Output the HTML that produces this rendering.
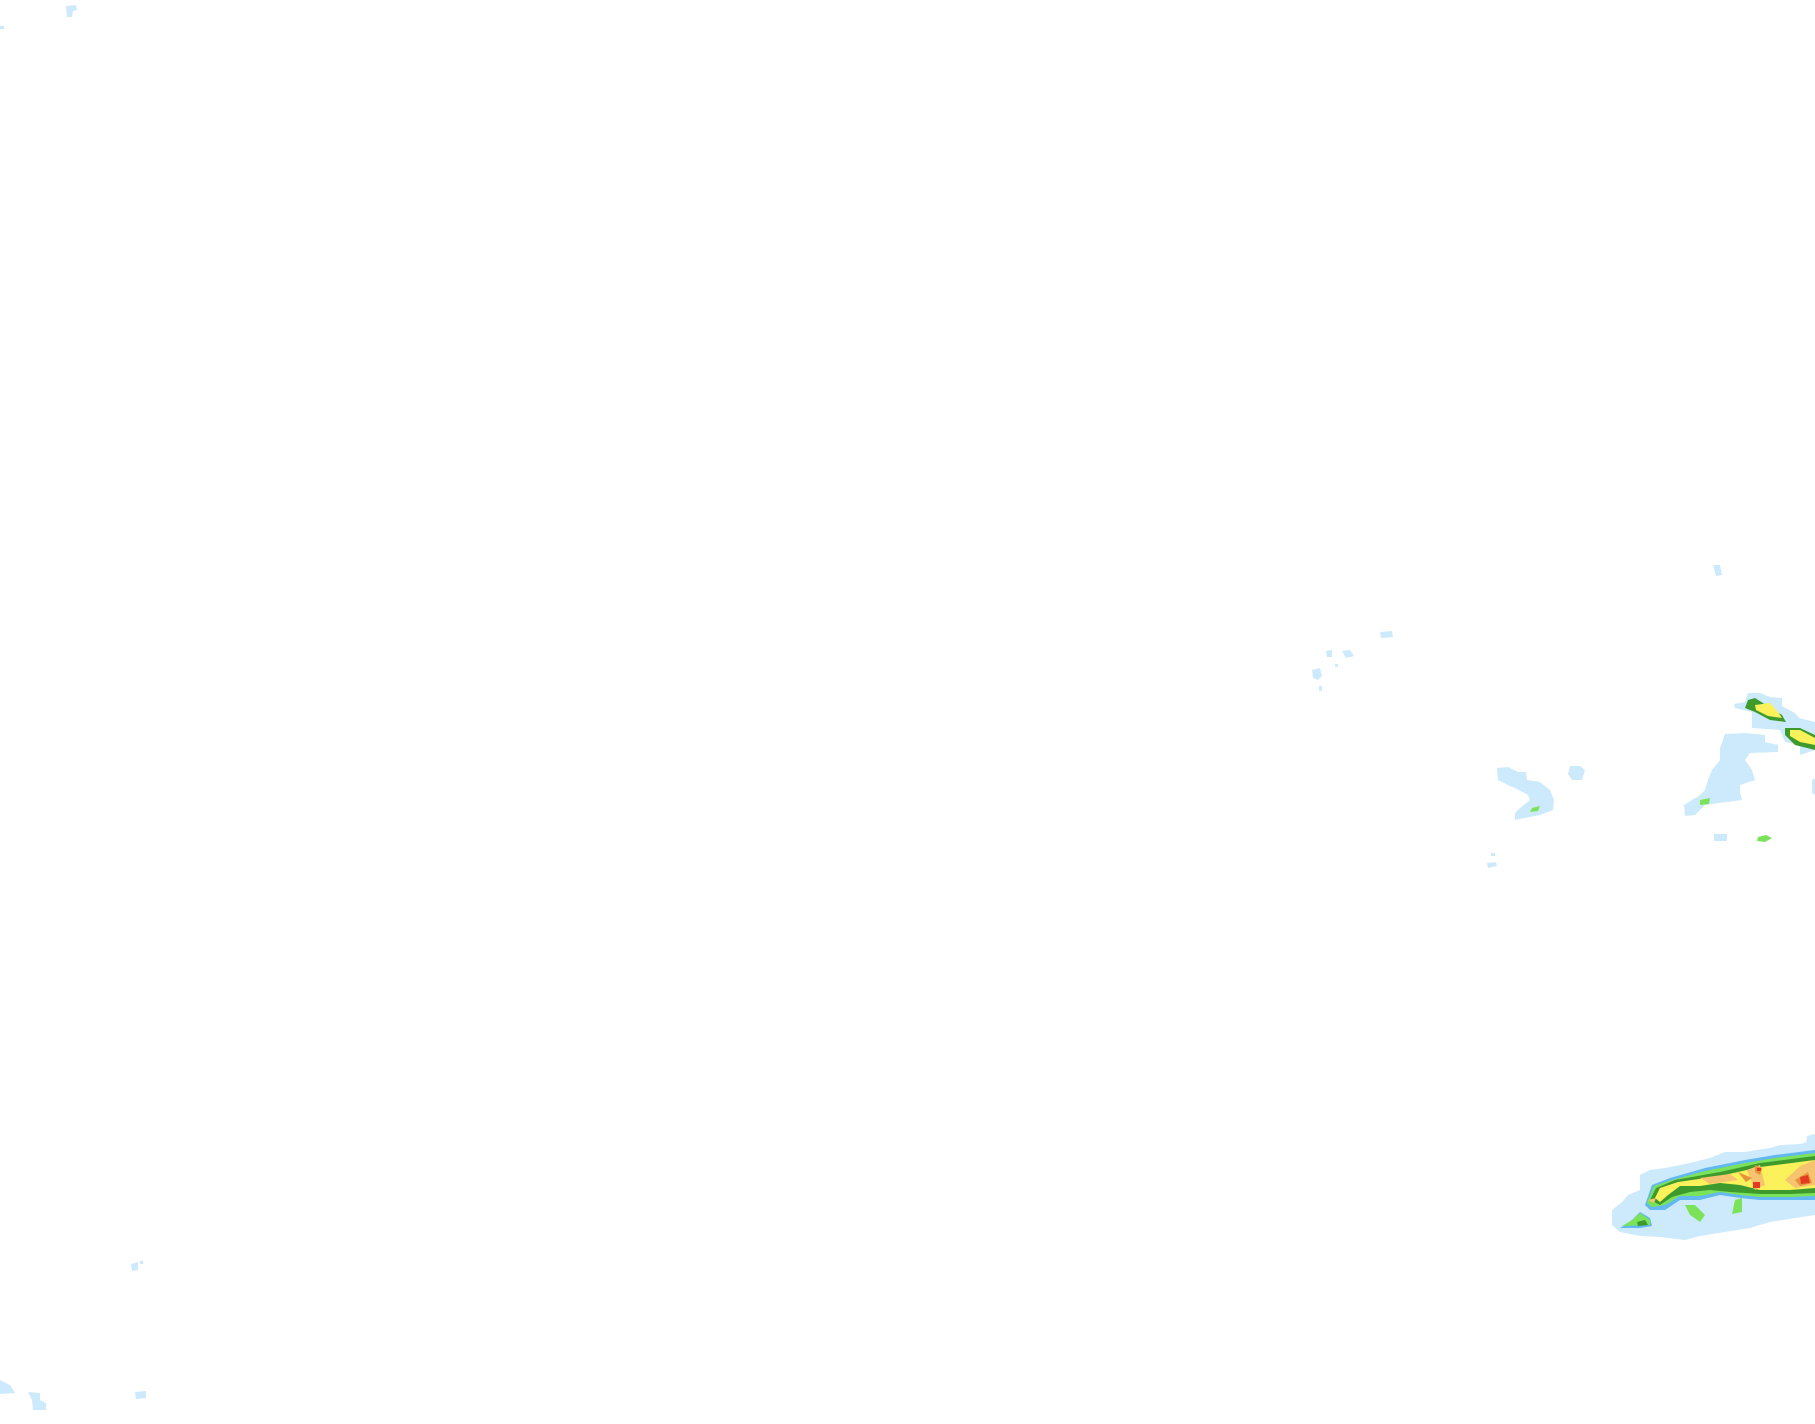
<!DOCTYPE html>
<html><head><meta charset="utf-8"><style>html,body{margin:0;padding:0;background:#fff;}svg{display:block}</style></head>
<body>
<svg width="1815" height="1424" viewBox="0 0 1815 1424" xmlns="http://www.w3.org/2000/svg">
<g fill="#cdeafc">
<!-- small specks -->
<path d="M66 6 L76 5 L77 10 L73 11 L72 17 L67 17 Z"/>
<rect x="0" y="26" width="4" height="3"/>
<path d="M1312 670 L1320 668 L1322 676 L1318 680 L1313 678 Z"/>
<rect x="1319" y="686" width="3" height="5"/>
<path d="M1326 651 L1332 650 L1332 657 L1327 657 Z"/>
<path d="M1342 651 L1350 650 L1354 656 L1346 658 Z"/>
<rect x="1335" y="664" width="3" height="3"/>
<path d="M1380 632 L1392 631 L1393 637 L1381 638 Z"/>
<path d="M1713 565 L1720 565 L1722 575 L1716 576 Z"/>
<path d="M1714 834 L1727 834 L1727 841 L1714 841 Z"/>
<path d="M1487 863 L1496 862 L1497 866 L1488 868 Z"/>
<rect x="1491" y="853" width="4" height="3"/>
<path d="M131 1264 L138 1262 L138 1270 L132 1271 Z"/>
<rect x="140" y="1261" width="3" height="3"/>
<path d="M0 1380 L10 1385 L15 1393 L0 1394 Z"/>
<path d="M28 1392 L40 1393 L40 1400 L46 1403 L46 1410 L33 1410 L32 1400 Z"/>
<path d="M135 1392 L146 1391 L146 1398 L136 1399 Z"/>
<path d="M1807 1136 L1815 1134 L1815 1146 L1806 1145 Z"/>
<path d="M1812 780 L1815 778 L1815 795 L1812 793 Z"/>
<!-- middle blobs -->
<path d="M1497 768 L1508 767 L1518 772 L1526 772 L1527 780 L1540 782 L1550 790 L1554 800 L1553 810 L1540 815 L1525 818 L1515 820 L1515 813 L1520 808 L1530 800 L1528 795 L1515 788 L1510 786 L1498 780 Z"/>
<path d="M1570 766 L1580 766 L1585 770 L1582 780 L1572 780 L1568 774 Z"/>
<path d="M1725 734 L1745 733 L1765 735 L1765 742 L1778 745 L1778 752 L1750 753 L1745 760 L1752 770 L1755 780 L1740 785 L1740 792 L1742 800 L1705 805 L1695 815 L1685 816 L1684 805 L1700 795 L1705 790 L1708 780 L1712 770 L1720 760 L1720 748 Z"/>
<path d="M1734 704 L1745 702 L1748 693 L1760 693 L1770 697 L1782 698 L1782 706 L1795 713 L1799 718 L1815 722 L1815 750 L1800 755 L1800 745 L1785 742 L1780 730 L1752 728 L1752 712 L1735 708 Z"/>
<!-- bottom right envelope -->
<path d="M1612 1225 L1612 1210 L1622 1202 L1628 1195 L1640 1190 L1640 1175 L1650 1170 L1665 1168 L1690 1163 L1710 1158 L1725 1152 L1745 1152 L1770 1148 L1780 1145 L1800 1144 L1815 1140 L1815 1215 L1795 1218 L1770 1222 L1750 1228 L1725 1232 L1700 1236 L1685 1240 L1660 1237 L1640 1236 L1620 1232 Z"/>
</g>
<g fill="#62b8ef">
<path d="M1645 1205 L1652 1185 L1670 1178 L1705 1168 L1745 1160 L1775 1155 L1815 1150 L1815 1200 L1790 1200 L1760 1200 L1740 1198 L1720 1195 L1700 1200 L1680 1200 L1665 1210 L1650 1210 Z"/>
<path d="M1620 1228 L1630 1222 L1640 1212 L1650 1218 L1652 1226 L1640 1228 Z"/>
</g>
<g fill="#7be35a">
<path d="M1647 1203 L1654 1186 L1672 1180 L1705 1171 L1745 1163 L1775 1158 L1815 1153 L1815 1196 L1790 1197 L1760 1197 L1740 1195 L1720 1192 L1700 1196 L1680 1196 L1665 1205 L1652 1207 Z"/>
<path d="M1622 1226 L1632 1220 L1640 1213 L1650 1220 L1650 1225 Z"/>
<path d="M1685 1205 L1695 1205 L1705 1215 L1700 1222 L1690 1215 Z"/>
<path d="M1735 1200 L1742 1198 L1742 1212 L1732 1214 Z"/>
<path d="M1758 837 L1766 835 L1772 838 L1765 842 L1757 841 Z"/>
<path d="M1532 808 L1540 806 L1538 811 L1530 812 Z"/>
<path d="M1700 800 L1710 798 L1709 804 L1700 805 Z"/>
</g>
<g fill="#3f9a2e">
<path d="M1650 1200 L1656 1188 L1675 1180 L1720 1172 L1760 1163 L1815 1156 L1815 1193 L1790 1194 L1760 1194 L1730 1192 L1710 1190 L1690 1192 L1672 1197 L1660 1205 Z"/>
<path d="M1637 1222 L1645 1220 L1648 1225 L1638 1226 Z"/>
<path d="M1748 700 L1755 698 L1763 703 L1770 708 L1782 715 L1786 722 L1770 720 L1755 712 L1745 708 Z"/>
<path d="M1785 728 L1800 728 L1815 735 L1815 750 L1795 745 L1785 735 Z"/>
</g>
<g fill="#fbf15a">
<path d="M1655 1198 L1660 1188 L1678 1182 L1720 1176 L1760 1167 L1815 1160 L1815 1188 L1790 1190 L1760 1190 L1740 1185 L1720 1183 L1700 1186 L1680 1186 L1668 1195 L1660 1202 Z"/>
<path d="M1755 705 L1770 703 L1778 712 L1782 718 L1768 716 L1756 710 Z"/>
<path d="M1790 730 L1800 730 L1815 738 L1815 745 L1800 742 L1790 736 Z"/>
</g>
<g fill="#f6c46e">
<path d="M1700 1178 L1730 1174 L1738 1180 L1710 1184 Z"/>
<path d="M1747 1170 L1760 1165 L1765 1185 L1755 1190 Z"/>
<path d="M1785 1180 L1800 1166 L1815 1160 L1815 1185 L1795 1188 Z"/>
<path d="M1648 1200 L1656 1198 L1654 1203 Z"/>
</g>
<g fill="#e8923c">
<path d="M1738 1172 L1752 1178 L1746 1182 Z"/>
<path d="M1755 1165 L1762 1168 L1760 1175 L1755 1172 Z"/>
<path d="M1795 1180 L1808 1172 L1812 1183 L1800 1186 Z"/>
</g>
<g fill="#e43a22">
<path d="M1753 1182 L1760 1182 L1760 1188 L1753 1188 Z"/>
<path d="M1800 1177 L1808 1175 L1810 1183 L1801 1184 Z"/>
<rect x="1757" y="1168" width="4" height="3"/>
</g>
</svg>
</body></html>
